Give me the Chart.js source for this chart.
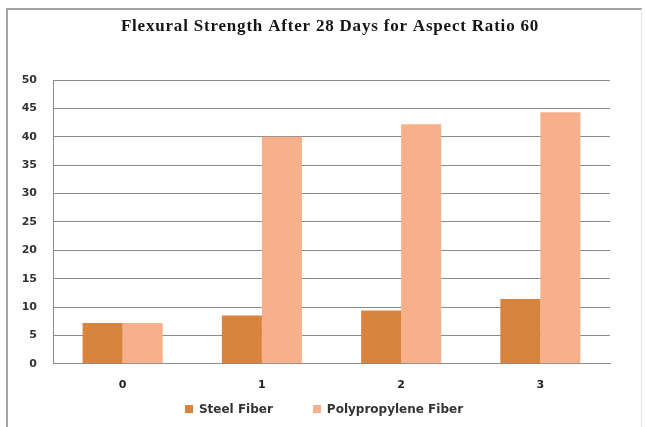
<!DOCTYPE html>
<html>
<head>
<meta charset="utf-8">
<script src="https://cdn.jsdelivr.net/npm/chart.js@4"></script>
<style>
  html, body { margin: 0; padding: 0; background: #fff; }
  #wrap { position: relative; width: 646px; height: 427px; overflow: hidden; }
  #frame {
    position: absolute; left: 6px; top: 8px; width: 636px; height: 440px;
    border-top: 2px solid #a3a3a3; border-left: 2px solid #a3a3a3;
    border-right: 1px solid #e4e4e4; box-sizing: border-box;
  }
  canvas { position: absolute; left: 0; top: 0; }
</style>
</head>
<body>
<div id="wrap">
  <div id="frame"></div>
  <canvas id="c" width="646" height="427"></canvas>
</div>
<script>
const categories = ['0', '1', '2', '3'];
const steelFiber = [7.2, 8.5, 9.4, 11.4];
const polypropyleneFiber = [7.2, 40, 42.2, 44.3];
const yTicks = [0, 5, 10, 15, 20, 25, 30, 35, 40, 45, 50];
const chartTitle = 'Flexural Strength After 28 Days for Aspect Ratio 60';

const tickFont = { family: 'DejaVu Sans', size: 11, weight: 'bold' };

// Serif title with slightly open letter spacing, centred over the plot
const titlePlugin = {
  id: 'spacedTitle',
  afterDraw(chart) {
    const ctx = chart.ctx;
    ctx.save();
    ctx.font = 'bold 17px "Liberation Serif"';
    ctx.letterSpacing = '0.8px';
    ctx.fillStyle = '#151515';
    ctx.textAlign = 'center';
    ctx.textBaseline = 'middle';
    ctx.fillText(chartTitle, 330, 27);
    ctx.restore();
  }
};

// Bottom legend: small square swatches with wide spacing between entries
const legendPlugin = {
  id: 'wideLegend',
  afterDraw(chart) {
    const ctx = chart.ctx;
    const sets = chart.data.datasets;
    const box = 8, gap = 6, itemGap = 40, cy = 409, cx = 324;
    ctx.save();
    ctx.font = 'bold 12px "DejaVu Sans"';
    ctx.textBaseline = 'middle';
    ctx.textAlign = 'left';
    const widths = sets.map(d => ctx.measureText(d.label).width);
    let total = 0;
    widths.forEach((w, i) => { total += box + gap + w + (i < widths.length - 1 ? itemGap : 0); });
    let x = cx - total / 2;
    sets.forEach((d, i) => {
      ctx.fillStyle = d.backgroundColor;
      ctx.fillRect(Math.round(x), cy - box / 2, box, box);
      ctx.fillStyle = '#333';
      ctx.fillText(d.label, x + box + gap, cy + 0.5);
      x += box + gap + widths[i] + itemGap;
    });
    ctx.restore();
  }
};

new Chart(document.getElementById('c'), {
  type: 'bar',
  data: {
    labels: categories,
    datasets: [
      { label: 'Steel Fiber', data: steelFiber, backgroundColor: '#d9843e',
        categoryPercentage: 0.575, barPercentage: 1.0, borderWidth: 0 },
      { label: 'Polypropylene Fiber', data: polypropyleneFiber, backgroundColor: '#f7b08b',
        categoryPercentage: 0.575, barPercentage: 1.0, borderWidth: 0 }
    ]
  },
  plugins: [titlePlugin, legendPlugin],
  options: {
    responsive: false,
    animation: false,
    events: [],
    layout: { padding: { left: 0, right: 36, top: 80, bottom: 20 } },
    plugins: {
      title: { display: false },
      legend: { display: false },
      tooltip: { enabled: false }
    },
    scales: {
      x: {
        grid: { display: false, drawTicks: false },
        border: { display: true, color: '#8a8a8a', width: 1 },
        ticks: { color: '#222', font: tickFont, padding: 15 }
      },
      y: {
        min: 0, max: 50,
        afterBuildTicks: (scale) => { scale.ticks = yTicks.map(v => ({ value: v })); },
        grid: { color: '#8a8a8a', lineWidth: 1, drawTicks: false },
        border: { display: true, color: '#8a8a8a', width: 1 },
        ticks: { color: '#333', font: tickFont, padding: 16 },
        afterFit: (scale) => { scale.width = 53; }
      }
    }
  }
});
</script>
</body>
</html>
